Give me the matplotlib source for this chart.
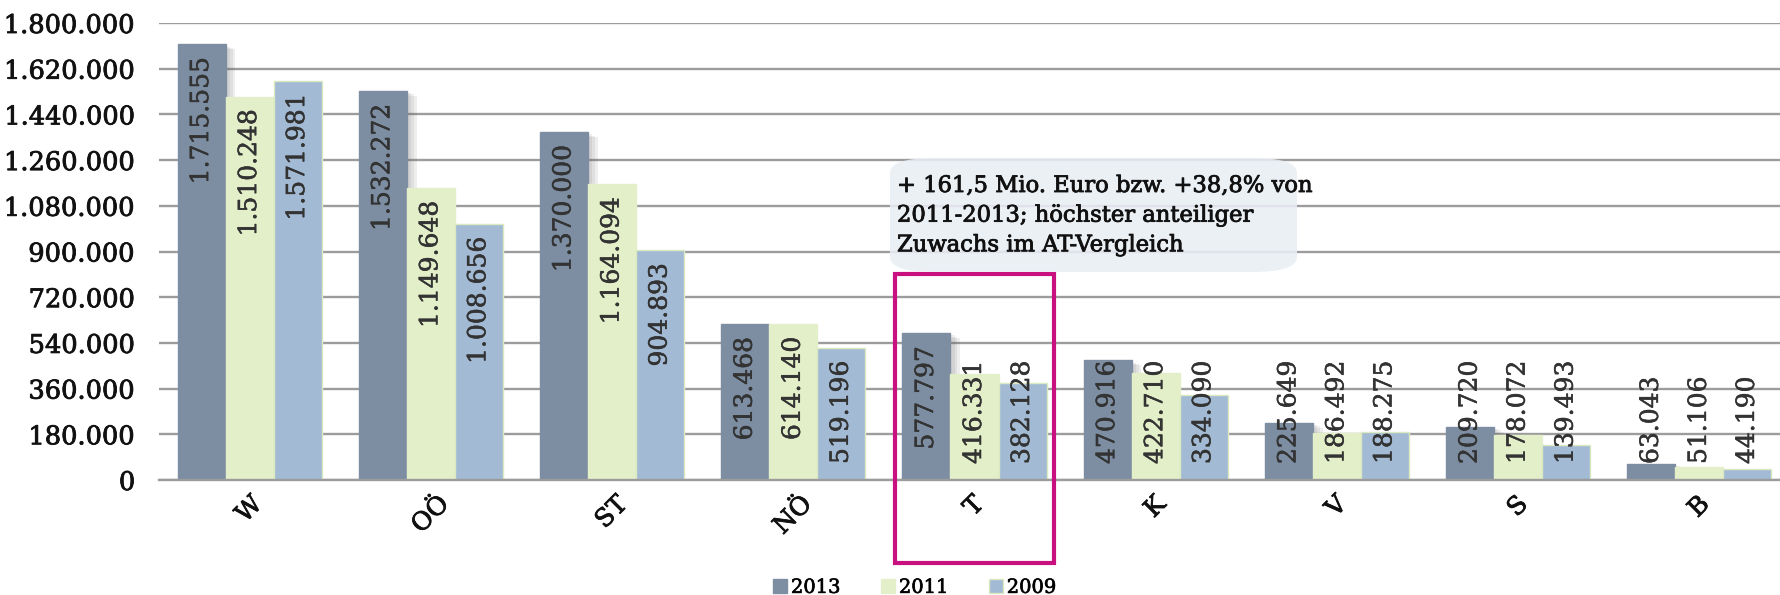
import matplotlib.pyplot as plt
import matplotlib.patheffects as pe
from matplotlib.patches import Patch, Rectangle, FancyBboxPatch
from matplotlib import font_manager
import numpy as np

regions = ['W', 'OÖ', 'ST', 'NÖ', 'T', 'K', 'V', 'S', 'B']
years = ['2013', '2011', '2009']
v2013 = [1715555, 1532272, 1370000, 613468, 577797, 470916, 225649, 209720, 63043]
v2011 = [1510248, 1149648, 1164094, 614140, 416331, 422710, 186492, 178072, 51106]
v2009 = [1571981, 1008656, 904893, 519196, 382128, 334090, 188275, 139493, 44190]
yticks = [0, 180000, 360000, 540000, 720000, 900000, 1080000, 1260000, 1440000, 1620000, 1800000]
note = '+ 161,5 Mio. Euro bzw. +38,8% von\n2011-2013; höchster anteiliger\nZuwachs im AT-Vergleich'
highlight = 'T'

colors = ['#7d8ea3', '#e3efc8', '#a2bad4']
edges = ['#7d8ea3', '#e3efc8', '#dbe9c0']

plt.rcParams['font.family'] = ['DejaVu Serif']
names = {f.name for f in font_manager.fontManager.ttflist}
note_family = 'DejaVu Serif Condensed' if 'DejaVu Serif Condensed' in names else 'DejaVu Serif'


def heavy(c, lw=0.6):
    return [pe.withStroke(linewidth=lw, foreground=c)]


fig = plt.figure(figsize=(17.8, 5.95), dpi=100)
ax = fig.add_axes([159 / 1780, 1 - 480 / 595, 1631 / 1780, 457 / 595])

x = np.arange(len(regions))
w = 0.265
series = [v2013, v2011, v2009]
shadow = [pe.SimplePatchShadow(offset=(k, -k / 2), shadow_rgbFace='#606060', alpha=0.10) for k in (7, 5, 3)]
for i, vals in enumerate(series):
    b = ax.bar(x + (i - 1) * w, vals, w, color=colors[i], edgecolor=edges[i],
               linewidth=1, zorder=3, label=years[i])
    if i == 0:
        for r in b:
            r.set_path_effects(shadow + [pe.Normal()])

ax.set_xlim(-0.5, len(regions) - 0.5)
ax.set_ylim(0, 1800000)
ax.set_yticks(yticks)
ax.set_yticklabels([f'{v:,}'.replace(',', '.') for v in yticks], fontsize=18.5)
ax.set_xticks(x)
ax.set_xticklabels(regions, rotation=45, ha='center', va='top', fontsize=18)
ax.tick_params(axis='x', length=0, pad=9)
ax.tick_params(axis='y', length=0, pad=17)
for lab in ax.get_xticklabels() + ax.get_yticklabels():
    lab.set_color('#111111')
    lab.set_path_effects(heavy('#111111'))
ax.grid(axis='y', color='#9c9c9c', linewidth=1.7, zorder=0)
ax.set_axisbelow(True)
for s in ['top', 'right', 'left']:
    ax.spines[s].set_visible(False)
ax.spines['bottom'].set_color('#9c9c9c')
ax.spines['bottom'].set_linewidth(1.7)
ax.spines['bottom'].set_zorder(4)

# value labels: inside end, but kept above the base when the bar is too short
fig.canvas.draw()
renderer = fig.canvas.get_renderer()
px = 457 / 1800000
pad_top = 13 / px
pad_base = 16 / px
for i, vals in enumerate(series):
    for xi, v in zip(x + (i - 1) * w, vals):
        t = ax.text(xi, v - pad_top, f'{v:,}'.replace(',', '.'), rotation=90, ha='center', va='top',
                    fontsize=18, color='#333333', zorder=5, path_effects=heavy('#333333', 0.4))
        h = t.get_window_extent(renderer).height / px
        if v - pad_top - h < pad_base:
            t.set_y(pad_base)
            t.set_va('bottom')

# highlight box around the T group
hi = regions.index(highlight)
ax.add_patch(Rectangle((hi - 0.436, -327000), 0.872, 1138000, fill=False, edgecolor='#c8107e',
                       linewidth=3, zorder=6, clip_on=False))

# note box
box = FancyBboxPatch((890 / 1780, 1 - 272 / 595), 407 / 1780, 114 / 595,
                     boxstyle='round,pad=0,rounding_size=0.025', transform=fig.transFigure,
                     facecolor='#e9eef4', edgecolor='none', alpha=0.88, zorder=7)
fig.patches.append(box)
fig.text(897 / 1780, 1 - 175 / 595, note, fontsize=16.3, va='top', ha='left', linespacing=1.45,
         color='#111111', family=note_family, zorder=8, path_effects=heavy('#111111', 0.6))

handles = [Patch(facecolor=colors[i], edgecolor=edges[i], label=years[i]) for i in range(3)]
leg = fig.legend(handles=handles, loc='center', bbox_to_anchor=(0.514, 0.012), ncol=3, frameon=False,
                 fontsize=14, handlelength=0.7, handleheight=0.7, handletextpad=0.2, columnspacing=2.1)
for t in leg.get_texts():
    t.set_path_effects(heavy('#111111', 0.5))

fig.savefig('out.png', dpi=100)
